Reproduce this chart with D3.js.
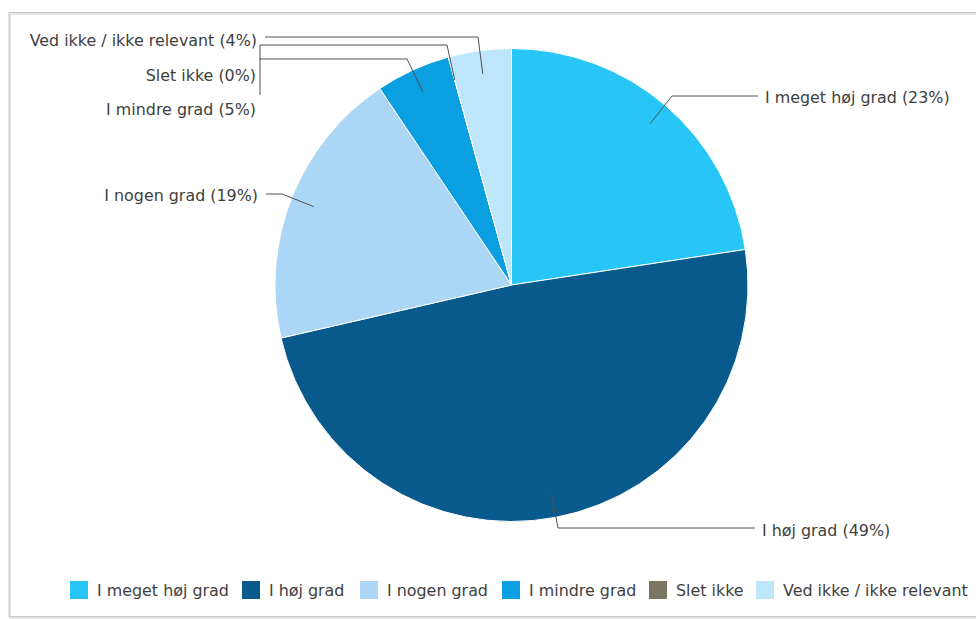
<!DOCTYPE html>
<html>
<head>
<meta charset="utf-8">
<script src="https://cdn.jsdelivr.net/npm/d3@7"></script>
<style>
  body { margin: 0; background: #fff; }
  text { font-family: Verdana, "DejaVu Sans", sans-serif; fill: #404040; }
</style>
</head>
<body>
<div id="chart"></div>
<script>
// answer categories, clockwise from 12 o'clock
const categories = ['I meget høj grad', 'I høj grad', 'I nogen grad', 'I mindre grad', 'Slet ikke', 'Ved ikke / ikke relevant'];
const shares = [22.6, 48.8, 19.2, 5.1, 0, 4.3];
const pctLabels = ['23%', '49%', '19%', '5%', '0%', '4%'];
const colors = ['#27c6f6', '#075a8b', '#abd6f6', '#0a9fe0', '#7a7663', '#bee6fb'];

const width = 976;
const height = 619;
const cx = 511.5, cy = 285, R = 236.5;

// where each data label sits and how its leader bends (layout only)
const labelLayout = [
  {bend: [[672, 96], [758, 96]], x: 765, y: 97, anchor: 'start'},
  {bend: [[558, 528], [755, 528]], x: 762, y: 530, anchor: 'start'},
  {bend: [[282, 194], [266, 194]], x: 258, y: 195, anchor: 'end'},
  {bend: [[407, 59], [260, 59], [260, 95]], x: 256, y: 109, anchor: 'end'},
  {bend: [[447, 45], [260, 45], [260, 60]], x: 256, y: 75, anchor: 'end'},
  {bend: [[478, 37], [265, 37]], x: 257, y: 40, anchor: 'end'}
];

const svg = d3.select('#chart').append('svg')
  .attr('width', width)
  .attr('height', height);

// frame
svg.append('rect')
  .attr('x', 10).attr('y', 14)
  .attr('width', width + 10).attr('height', 604)
  .attr('fill', 'none')
  .attr('stroke', '#e6e6e6').attr('stroke-width', 2);
svg.append('rect')
  .attr('x', 9).attr('y', 12.5)
  .attr('width', width + 10).attr('height', 604)
  .attr('fill', 'none')
  .attr('stroke', '#c8c8c8').attr('stroke-width', 1);

const pie = d3.pie().sort(null).value(d => d)(shares);
const arc = d3.arc().innerRadius(0).outerRadius(R);

const g = svg.append('g').attr('transform', `translate(${cx},${cy})`);

g.selectAll('path.slice')
  .data(pie)
  .enter().append('path')
    .attr('class', 'slice')
    .attr('d', arc)
    .attr('fill', (d, i) => colors[i])
    .attr('stroke', '#fff')
    .attr('stroke-width', 1);

// leader lines from 90% of the radius at each slice's middle angle
const line = d3.line();
svg.selectAll('path.leader')
  .data(pie)
  .enter().append('path')
    .attr('class', 'leader')
    .attr('d', (d, i) => {
      const mid = (d.startAngle + d.endAngle) / 2;
      const p = [cx + Math.sin(mid) * R * 0.9, cy - Math.cos(mid) * R * 0.9];
      return line([p].concat(labelLayout[i].bend));
    })
    .attr('fill', 'none')
    .attr('stroke', '#505050')
    .attr('stroke-width', 1);

svg.selectAll('text.dlabel')
  .data(categories)
  .enter().append('text')
    .attr('class', 'dlabel')
    .attr('x', (d, i) => labelLayout[i].x)
    .attr('y', (d, i) => labelLayout[i].y)
    .attr('dy', '0.35em')
    .attr('text-anchor', (d, i) => labelLayout[i].anchor)
    .style('font-size', '15.9px')
    .text((d, i) => `${d} (${pctLabels[i]})`);

// legend
const legendX = [70, 242, 360, 502, 649, 756];
const legend = svg.selectAll('g.legend')
  .data(categories)
  .enter().append('g')
    .attr('class', 'legend')
    .attr('transform', (d, i) => `translate(${legendX[i]},590)`);

legend.append('rect')
  .attr('x', 0).attr('y', -9)
  .attr('width', 18).attr('height', 18)
  .attr('fill', (d, i) => colors[i]);

legend.append('text')
  .attr('x', 27)
  .attr('y', 0)
  .attr('dy', '0.35em')
  .style('font-size', '15.9px')
  .text(d => d);
</script>
</body>
</html>
